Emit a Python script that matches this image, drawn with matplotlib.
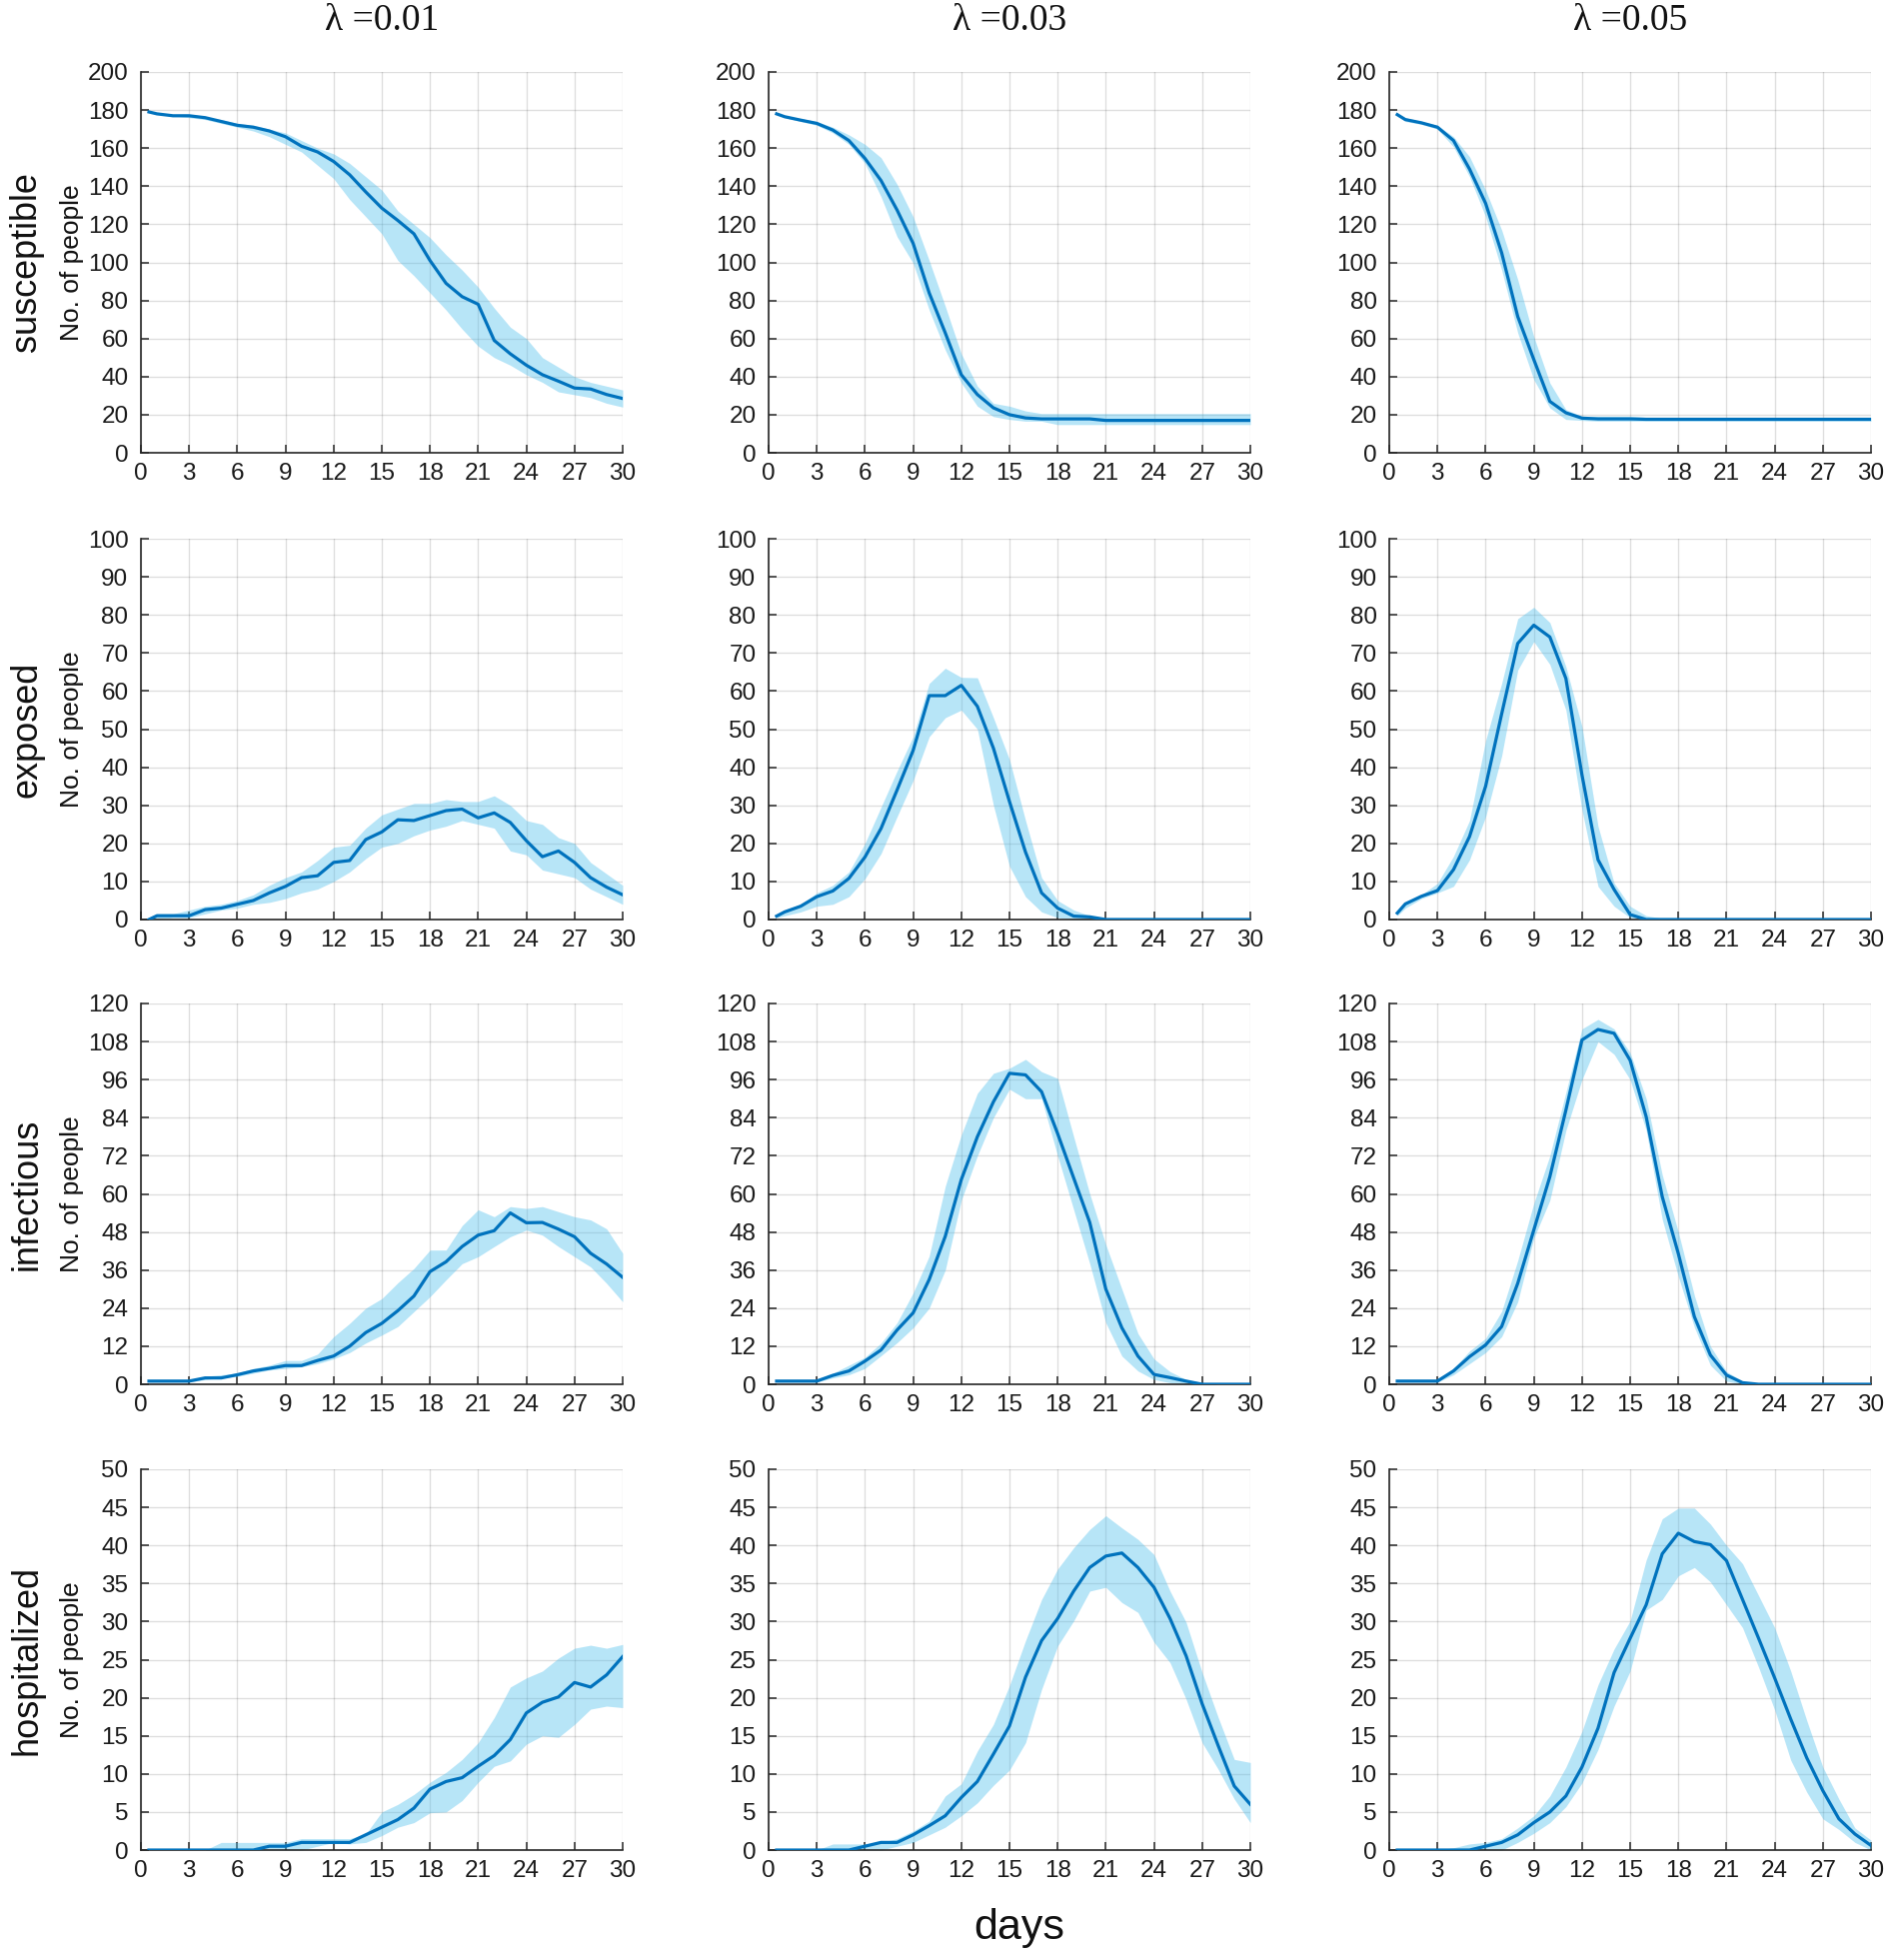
import matplotlib
matplotlib.use("Agg")
import matplotlib.pyplot as plt
import numpy as np

# ---------------- data ----------------
days = [0.5] + list(range(1, 31))
lambdas = ["0.01", "0.03", "0.05"]
row_names = ["susceptible", "exposed", "infectious", "hospitalized"]
y_max = [200, 100, 120, 50]
y_step = [20, 10, 12, 5]
x_ticks = list(range(0, 31, 3))

# susceptible
S1_mean = [179, 178, 177, 177, 176, 174, 172, 171, 169, 166, 161, 158, 153, 146, 137, 128.5, 122, 115, 101, 89, 82, 78, 59, 52, 46, 41, 37.6, 34, 33.5, 30.6, 28.5]
S1_up   = [179, 178, 177, 177, 176, 175, 173, 172, 170, 168, 164, 160, 157, 152, 145, 138, 127, 120, 113, 104, 96, 87, 76, 66, 60, 50, 45, 40, 37, 35, 33]
S1_lo   = [179, 178, 177, 176, 175, 173, 171, 169, 166, 162, 158, 151, 144, 133, 124, 115, 101, 93, 84, 75, 65, 56, 50, 46, 41, 37, 32, 30.5, 29, 26, 24]

S2_mean = [178, 176.5, 174.7, 173, 169.5, 164, 154.6, 143, 127.5, 110, 84, 63, 41, 30.6, 23.6, 20, 18.3, 17.8, 17.8, 17.8, 17.8, 17, 17, 17, 17, 17, 17, 17, 17, 17, 17]
S2_up   = [178, 177, 175.5, 174, 171, 167, 162, 155, 141, 124, 101, 77, 52, 35, 26, 24.5, 22, 20.6, 20.6, 20.6, 20.6, 20.6, 20.6, 20.6, 20.6, 20.6, 20.6, 20.6, 20.6, 20.6, 20.6]
S2_lo   = [178, 176, 174, 172, 168, 162, 152, 134.5, 113.5, 99.6, 75, 54, 36.7, 24.5, 19, 17.5, 16.6, 16.6, 14.8, 14.8, 14.8, 14.8, 14.8, 14.8, 14.8, 14.8, 14.8, 14.8, 14.8, 14.8, 14.8]

S3_mean = [177.6, 175, 173.3, 171, 164, 149, 131, 105, 71.6, 49, 27, 21, 18.2, 17.8, 17.8, 17.8, 17.6, 17.6, 17.6, 17.6, 17.6, 17.6, 17.6, 17.6, 17.6, 17.6, 17.6, 17.6, 17.6, 17.6, 17.6]
S3_up   = [178, 176, 174, 172, 166, 155.5, 138, 117, 91, 61, 36.7, 22.7, 19.2, 19.2, 19.2, 19.2, 18.6, 18.6, 18.6, 18.6, 18.6, 18.6, 18.6, 18.6, 18.6, 18.6, 18.6, 18.6, 18.6, 18.6, 18.6]
S3_lo   = [177, 174, 172.5, 170, 160.7, 145, 124, 96, 63, 38.4, 23.6, 17.5, 17, 16.6, 16.6, 16.6, 16.6, 16.6, 16.6, 16.6, 16.6, 16.6, 16.6, 16.6, 16.6, 16.6, 16.6, 16.6, 16.6, 16.6, 16.6]

# exposed
E1_mean = [0, 1, 1, 1, 2.6, 3, 4, 5, 7, 8.7, 11, 11.5, 15, 15.5, 21, 23, 26.2, 26, 27.3, 28.6, 29, 26.7, 28, 25.5, 20.7, 16.5, 18, 15, 11, 8.5, 6.5]
E1_up   = [0.3, 1.5, 1.5, 2.5, 3.5, 4, 5, 6.5, 9, 11, 12.5, 15.5, 19, 19.5, 24, 27.5, 29, 30.5, 30.5, 31.5, 31, 31, 32.5, 30, 26, 25, 21.5, 20, 15, 12, 9]
E1_lo   = [0, 0, 0.5, 0.5, 1.5, 2.5, 3, 4, 4.5, 5.5, 7, 8, 10, 12.5, 16, 19, 20, 22, 23.5, 24.5, 26, 25, 24, 18, 17, 13, 12, 11, 8, 6, 4]

E2_mean = [0.9, 2, 3.5, 6, 7.5, 10.8, 16.4, 23.9, 34, 44.4, 58.8, 58.8, 61.5, 56, 45, 31, 17.7, 7, 3, 0.9, 0.7, 0, 0, 0, 0, 0, 0, 0, 0, 0, 0]
E2_up   = [1.2, 2.5, 4, 7, 9, 12.5, 20, 29.5, 39, 48, 62, 66, 63.6, 63.5, 53, 42, 26, 11, 5, 2.5, 1, 0.3, 0, 0, 0, 0, 0, 0, 0, 0, 0]
E2_lo   = [0.5, 1, 2, 3.5, 4, 6, 10.7, 17.3, 27, 36.5, 48, 53, 55, 50, 30, 14, 6, 2, 0.5, 0, 0, 0, 0, 0, 0, 0, 0, 0, 0, 0, 0]

E3_mean = [1.7, 4.1, 6.1, 7.6, 13.1, 21.8, 35, 54, 72.5, 77.3, 74.2, 63.3, 38, 15.7, 7.9, 1.3, 0, 0, 0, 0, 0, 0, 0, 0, 0, 0, 0, 0, 0, 0, 0]
E3_up   = [2, 4.5, 6.5, 9.5, 16.6, 26, 47, 62, 79, 82, 78, 66.4, 50.7, 24.5, 9.6, 3.5, 1, 0.3, 0, 0, 0, 0, 0, 0, 0, 0, 0, 0, 0, 0, 0]
E3_lo   = [1, 3, 5.5, 7, 8.7, 15.7, 27, 43, 65.5, 73, 67, 55, 28.8, 8.7, 3.5, 0.5, 0, 0, 0, 0, 0, 0, 0, 0, 0, 0, 0, 0, 0, 0, 0]

# infectious
I1_mean = [1, 1, 1, 1, 2, 2, 3, 4.2, 5, 5.9, 5.9, 7.5, 8.9, 12, 16.3, 19.2, 23.2, 27.8, 35.5, 38.6, 43.4, 47, 48.4, 54, 50.9, 51, 48.9, 46.5, 41.3, 37.9, 33.7]
I1_up   = [1.3, 1.3, 1.3, 1.5, 2.5, 3, 3.5, 5, 6, 7.5, 7.5, 9.5, 15, 19.2, 24, 27, 32, 36.5, 42.3, 42.3, 50, 55, 52.8, 56, 55.4, 56, 54.4, 52.8, 51.8, 49, 41.3]
I1_lo   = [0.7, 0.7, 0.7, 0.7, 1.5, 2, 2.5, 3.5, 4.5, 5, 5.5, 6.5, 8, 10, 13, 15.5, 18.2, 22.9, 27.6, 32.9, 38, 40.2, 43.4, 46.5, 48.6, 47, 43.4, 40.2, 37, 31.8, 26]

I2_mean = [1, 1, 1, 1, 2.8, 4.2, 7.3, 10.8, 17.1, 22.5, 33, 46.6, 64.5, 78, 89, 98, 97.5, 92.2, 79, 65, 51, 30, 17.8, 8.9, 3.1, 2.1, 1, 0, 0, 0, 0]
I2_up   = [1.3, 1.3, 1.3, 1.5, 3.5, 6, 8.5, 13, 19.4, 28.8, 40.4, 62.4, 78.6, 91.7, 98, 99.6, 102.4, 98.5, 96.4, 78, 60, 44, 30, 16, 8, 4, 1.5, 0.5, 0, 0, 0]
I2_lo   = [0.7, 0.7, 0.7, 0.7, 2, 3, 5, 9, 13.1, 17.8, 24, 36, 58, 72, 84, 93, 90, 90, 72, 55, 38, 19.4, 8.9, 4.2, 1.5, 0.5, 0, 0, 0, 0, 0]

I3_mean = [1, 1, 1, 1, 4.2, 8.7, 12.4, 18.2, 31.8, 48.6, 65.4, 86.4, 108.5, 111.8, 110.6, 102.1, 84.3, 59.1, 41.2, 21.3, 9.2, 2.9, 0.5, 0, 0, 0, 0, 0, 0, 0, 0]
I3_up   = [1.3, 1.3, 1.3, 1.5, 5, 10.5, 14.5, 23, 39, 57, 72, 92, 112, 115, 112, 104.5, 90, 66, 48, 28, 12, 4, 1, 0.3, 0, 0, 0, 0, 0, 0, 0]
I3_lo   = [0.7, 0.7, 0.7, 0.7, 3, 6.5, 10, 15, 26, 46, 58, 80, 96, 108, 104, 96, 80, 52, 34, 18, 6, 1, 0, 0, 0, 0, 0, 0, 0, 0, 0]

# hospitalized
H1_mean = [0, 0, 0, 0, 0, 0, 0, 0, 0.5, 0.5, 1, 1, 1, 1, 2, 3, 4, 5.5, 8, 9, 9.5, 11, 12.4, 14.5, 18, 19.4, 20.1, 22, 21.4, 23, 25.4]
H1_up   = [0, 0, 0, 0, 0, 1, 1, 1, 1, 1, 1.5, 1.5, 1.5, 1.5, 2.1, 5, 6, 7.3, 8.9, 10.2, 11.9, 14.1, 17.4, 21.4, 22.6, 23.5, 25.2, 26.5, 26.9, 26.5, 27]
H1_lo   = [0, 0, 0, 0, 0, 0, 0, 0, 0, 0, 0, 0.5, 1, 0.8, 1, 1.9, 3, 3.6, 4.9, 5, 6.5, 8.9, 11, 11.7, 13.9, 15, 14.8, 16.5, 18.5, 18.9, 18.7]

H2_mean = [0, 0, 0, 0, 0, 0, 0.5, 1, 1, 2, 3.2, 4.5, 6.9, 9, 12.6, 16.3, 22.7, 27.5, 30.4, 34, 37.1, 38.6, 39, 37.1, 34.5, 30.4, 25.5, 19.2, 13.7, 8.4, 6]
H2_up   = [0, 0, 0, 0, 0.8, 0.8, 0.8, 1, 1.5, 2.5, 3.8, 7.1, 8.7, 13, 16.5, 21.6, 27.5, 32.9, 36.9, 39.7, 42.1, 43.9, 42.3, 40.8, 38.8, 34, 29.9, 23.3, 17.4, 11.9, 11.5]
H2_lo   = [0, 0, 0, 0, 0, 0, 0, 0, 0.5, 1, 2, 3, 4.5, 6.2, 8.5, 10.5, 14.1, 21.1, 26.8, 30.1, 34, 34.5, 32.5, 31.2, 27.3, 24.6, 19.8, 14.1, 10.6, 6.7, 3.6]

H3_mean = [0, 0, 0, 0, 0, 0, 0.5, 1, 2, 3.6, 5, 7.1, 10.9, 16, 23.3, 27.8, 32.2, 38.9, 41.6, 40.5, 40.1, 38, 32.9, 27.8, 22.6, 17.2, 12.1, 7.8, 4.1, 2.1, 0.6]
H3_up   = [0, 0, 0, 0, 0.3, 0.8, 1, 1.5, 2.9, 4.5, 7.1, 10.9, 15.6, 21.7, 26.4, 30.1, 38.1, 43.5, 44.9, 44.9, 42.8, 40, 37.6, 33.4, 29.2, 23.5, 17, 10.9, 6.7, 2.9, 1.3]
H3_lo   = [0, 0, 0, 0, 0, 0, 0, 0, 1, 2.2, 3.6, 5.7, 8.8, 13.2, 18.9, 23.5, 31.5, 32.9, 36, 37.1, 35.2, 32.2, 29.2, 24, 18.4, 11.8, 7.6, 4.1, 2.7, 1, 0]

panels = [
    [(S1_mean, S1_lo, S1_up), (S2_mean, S2_lo, S2_up), (S3_mean, S3_lo, S3_up)],
    [(E1_mean, E1_lo, E1_up), (E2_mean, E2_lo, E2_up), (E3_mean, E3_lo, E3_up)],
    [(I1_mean, I1_lo, I1_up), (I2_mean, I2_lo, I2_up), (I3_mean, I3_lo, I3_up)],
    [(H1_mean, H1_lo, H1_up), (H2_mean, H2_lo, H2_up), (H3_mean, H3_lo, H3_up)],
]

# ---------------- layout ----------------
W, H = 1895, 1961
fig = plt.figure(figsize=(W / 100, H / 100), dpi=100)
col_left = [141, 769, 1390]
row_top = [72, 539, 1004, 1470]
ax_w, ax_h = 482, 381

tick_font = ['Liberation Sans Narrow', 'Liberation Sans', 'DejaVu Sans']
sans = ['Liberation Sans', 'DejaVu Sans']
serif = ['Liberation Serif', 'DejaVu Serif']

line_col = '#0072BD'
band_col = (0.3, 0.75, 0.93)
axis_col = '#262626'

for r in range(4):
    for c in range(3):
        left = col_left[c] / W
        bottom = 1 - (row_top[r] + ax_h) / H
        ax = fig.add_axes([left, bottom, ax_w / W, ax_h / H])
        mean, lo, up = panels[r][c]
        ax.fill_between(days, lo, up, color=band_col, alpha=0.4, linewidth=0, zorder=2)
        ax.plot(days, mean, color=line_col, linewidth=2.3, zorder=3)
        ax.set_xlim(0, 30)
        ax.set_ylim(0, y_max[r])
        ax.set_xticks(x_ticks)
        ax.set_yticks(np.arange(0, y_max[r] + 0.1, y_step[r]))
        ax.grid(True, color=axis_col, alpha=0.15, linewidth=1.0)
        ax.set_axisbelow(True)
        for s in ['top', 'right']:
            ax.spines[s].set_visible(False)
        for s in ['left', 'bottom']:
            ax.spines[s].set_color(axis_col)
            ax.spines[s].set_linewidth(1.2)
        ax.tick_params(direction='in', length=6, width=1.1, color=axis_col,
                       labelcolor='#1a1a1a')
        ax.tick_params(axis='y', pad=9)
        ax.tick_params(axis='x', pad=7)
        for lab in ax.get_xticklabels() + ax.get_yticklabels():
            lab.set_family(tick_font)
            lab.set_fontsize(17.5)

    ycen = 1 - (row_top[r] + ax_h / 2) / H
    fig.text(27 / W, ycen, row_names[r], rotation=90, ha='center', va='center',
             fontsize=26, family=sans, color='#111111')
    fig.text(72 / W, ycen, 'No. of people', rotation=90, ha='center', va='center',
             fontsize=19, family=sans, color='#111111')

for c in range(3):
    xc = (col_left[c] + ax_w / 2) / W
    fig.text(xc, 1 - 21 / H, 'λ =' + lambdas[c], ha='center', va='center',
             fontsize=27, family=serif, color='#111111')

fig.text(1020 / W, 1 - 1929 / H, 'days', ha='center', va='center',
         fontsize=31, family=sans, color='#111111')

fig.savefig('out.png', dpi=100)
